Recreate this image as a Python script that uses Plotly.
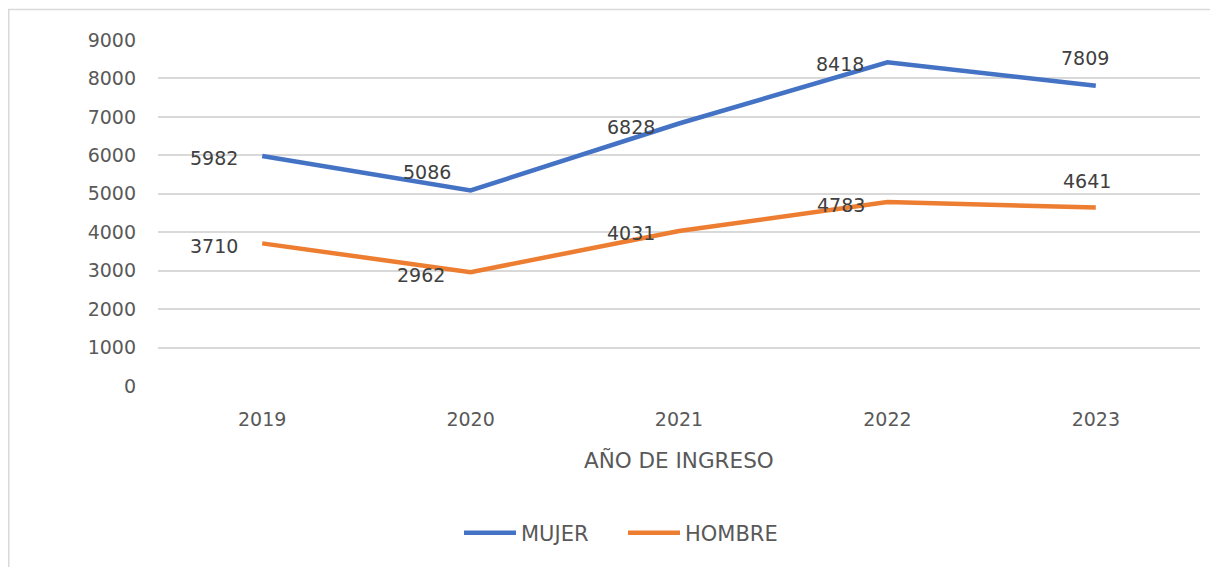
import plotly.graph_objects as go

years = ["2019", "2020", "2021", "2022", "2023"]
mujer = [5982, 5086, 6828, 8418, 7809]
hombre = [3710, 2962, 4031, 4783, 4641]
y_ticks = [0, 1000, 2000, 3000, 4000, 5000, 6000, 7000, 8000, 9000]

# label offsets in px (style)
mujer_off = [(-48, -2), (-44, 18), (-48, -3), (-47, -2), (-11, 28)]
hombre_off = [(-48, -3), (-50, -3), (-48, -2), (-46, -3), (-9, 27)]

BLUE = "#4472C4"
ORANGE = "#ED7D31"
FONT = "DejaVu Sans"

W, H = 1210, 559
L, T, PW, PH = 150, 32, 1042, 346

fig = go.Figure()
fig.add_trace(go.Scatter(x=years, y=mujer, mode="lines", name="MUJER",
                         line=dict(color=BLUE, width=4.5), cliponaxis=False))
fig.add_trace(go.Scatter(x=years, y=hombre, mode="lines", name="HOMBRE",
                         line=dict(color=ORANGE, width=4.5), cliponaxis=False))

annotations = []
for series, offs in ((mujer, mujer_off), (hombre, hombre_off)):
    for i, (yv, (dx, dy)) in enumerate(zip(series, offs)):
        annotations.append(dict(x=i, y=yv, xref="x", yref="y", text=str(yv),
                                showarrow=False, xshift=dx, yshift=dy,
                                font=dict(family=FONT, size=19, color="#404040")))

annotations.append(dict(x=0.5, y=-74 / PH, xref="paper", yref="paper",
                        text="AÑO DE INGRESO", showarrow=False, yanchor="middle",
                        font=dict(family=FONT, size=21.5, color="#595959")))

def px_x(v):
    return (v - L) / PW

def px_y(v):
    return (T + PH - v) / PH

fig.update_layout(
    width=W, height=H,
    margin=dict(l=L, r=W - L - PW, t=T, b=H - T - PH),
    paper_bgcolor="white", plot_bgcolor="white",
    showlegend=True,
    legend=dict(orientation="h", x=px_x(615), xanchor="center", y=px_y(525),
                yanchor="middle", font=dict(family=FONT, size=21, color="#595959"),
                itemwidth=52, entrywidth=97, entrywidthmode="pixels"),
    annotations=annotations,
    shapes=[
        dict(type="line", xref="paper", yref="paper", x0=px_x(0), x1=px_x(W),
             y0=px_y(1.5), y1=px_y(1.5), line=dict(color="#d9d9d9", width=1.5)),
        dict(type="line", xref="paper", yref="paper", x0=px_x(0.75), x1=px_x(0.75),
             y0=px_y(1.5), y1=px_y(H), line=dict(color="#d9d9d9", width=1.5)),
    ],
    xaxis=dict(type="category", range=[-0.5, 4.5], showgrid=False, showline=False,
               zeroline=False, ticks="", ticklabelstandoff=20,
               tickfont=dict(family=FONT, size=19, color="#595959")),
    yaxis=dict(range=[0, 9000], tickvals=y_ticks, showgrid=True, gridcolor="#d9d9d9",
               gridwidth=1.5, zeroline=False, showline=False, ticks="",
               ticklabelstandoff=21,
               tickfont=dict(family=FONT, size=19, color="#595959")),
)

fig.write_html("out.html")
